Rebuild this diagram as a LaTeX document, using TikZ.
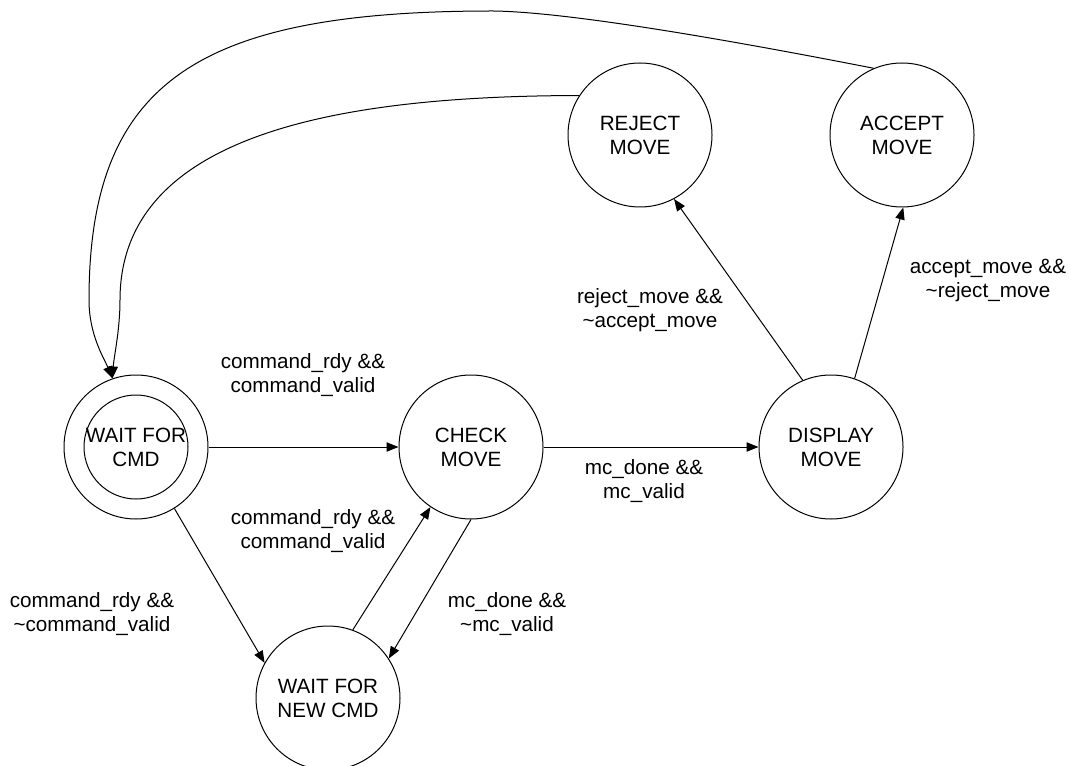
\documentclass[tikz,border=0pt]{standalone}
\usepackage{fontspec}
\setmainfont{Liberation Sans}
\usetikzlibrary{arrows.meta}
\begin{document}
\begin{tikzpicture}[x=0.75pt,y=-0.75pt,
  state/.style={circle, draw, line width=0.75pt, minimum size=108pt, inner sep=0pt,
    align=center, font=\fontsize{15.5pt}{18pt}\selectfont},
  guard/.style={align=center, inner sep=0pt, font=\fontsize{15.5pt}{18pt}\selectfont},
  trans/.style={line width=0.75pt, -{Triangle[length=9pt,width=7pt]}}]
\useasboundingbox (0,0) rectangle (1070,766);

% states
\node[state] (wait)    at (136,447) {WAIT FOR\\CMD};
\draw[line width=0.75pt] (wait.center) circle[radius=52];
\node[state] (check)   at (471,447) {CHECK\\MOVE};
\node[state] (display) at (831,447) {DISPLAY\\MOVE};
\node[state] (reject)  at (640,135) {REJECT\\MOVE};
\node[state] (accept)  at (902,135) {ACCEPT\\MOVE};
\node[state] (newcmd)  at (328,698) {WAIT FOR\\NEW CMD};

% transitions
\draw[trans] (wait.east) -- (check.west);
\draw[trans] (check.east) -- (display.west);
\draw[trans] (display.113) -- (reject.-62);
\draw[trans] (display.71) -- (accept.-89);
\draw[trans] (wait.-58) -- (newcmd.151);
\draw[trans] (newcmd.70) -- (check.-124);
\draw[trans] (check.-90) -- (newcmd.33);

% return paths to the idle state
\draw[trans] (accept.113) .. controls (780,50) and (580,12) .. (493,11)
  .. controls (200,11) and (89,80) .. (89,300)
  .. controls (89,335) and (104,358) .. (wait.109);
\draw[trans] (reject.147) .. controls (350,96) and (120,130) .. (120,300)
  .. controls (120,330) and (114,356) .. (wait.109);

% guard conditions
\node[guard] (g1) at (303,375) {command\_rdy \&\&\\command\_valid};
\node[guard] (g2) at (92,614)  {command\_rdy \&\&\\\textasciitilde command\_valid};
\node[guard] (g3) at (313,531) {command\_rdy \&\&\\command\_valid};
\node[guard] (g4) at (507,614) {mc\_done \&\&\\\textasciitilde mc\_valid};
\node[guard] (g5) at (644,481) {mc\_done \&\&\\mc\_valid};
\node[guard] (g6) at (650,310) {reject\_move \&\&\\\textasciitilde accept\_move};
\node[guard] (g7) at (988,280) {accept\_move \&\&\\\textasciitilde reject\_move};
\end{tikzpicture}
\end{document}
